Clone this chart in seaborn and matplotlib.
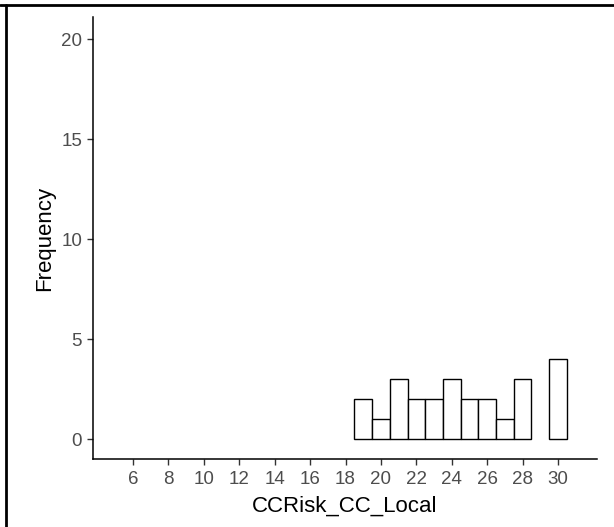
import matplotlib
matplotlib.use("Agg")
import matplotlib.pyplot as plt
from matplotlib.lines import Line2D
import seaborn as sns
import pandas as pd

# Data (bin centre -> frequency)
score_values = [19, 20, 21, 22, 23, 24, 25, 26, 27, 28, 29, 30]
frequencies = [2, 1, 3, 2, 2, 3, 2, 2, 1, 3, 0, 4]
x_ticks = [6, 8, 10, 12, 14, 16, 18, 20, 22, 24, 26, 28, 30]
y_ticks = [0, 5, 10, 15, 20]

df = pd.DataFrame({"CCRisk_CC_Local": score_values, "count": frequencies})

sns.set_theme(style="ticks")
plt.rcParams["font.family"] = ["Liberation Sans", "DejaVu Sans"]

W, H = 614, 527
fig = plt.figure(figsize=(W / 100, H / 100), dpi=100)
left, right, top, bottom = 93, 597, 17, 459
ax = fig.add_axes([left / W, 1 - bottom / H, (right - left) / W, (bottom - top) / H])

sns.histplot(data=df, x="CCRisk_CC_Local", weights="count", discrete=True,
             color="white", edgecolor="black", linewidth=1.0, alpha=1, ax=ax)
for p in list(ax.patches):
    if p.get_height() == 0:
        p.remove()

ax.set_xlim(3.74, 32.2)
ax.set_ylim(-1, 21.1)
ax.set_xticks(x_ticks)
ax.set_yticks(y_ticks)
sns.despine(ax=ax)
for s in ("left", "bottom"):
    ax.spines[s].set_linewidth(1.1)
    ax.spines[s].set_color("black")
ax.tick_params(axis="both", length=4.3, width=1.0, color="#333333",
               labelcolor="#4D4D4D", labelsize=13.5)
ax.tick_params(axis="y", pad=3.5)
ax.tick_params(axis="x", pad=4)
ax.set_xlabel("CCRisk_CC_Local", fontsize=16, color="black", labelpad=6)
ax.set_ylabel("Frequency", fontsize=16, color="black", labelpad=4)

# frame lines of the surrounding document
fig.add_artist(Line2D([0, 1], [1 - 5 / H, 1 - 5 / H], transform=fig.transFigure,
                      color="black", lw=2))
fig.add_artist(Line2D([6 / W, 6 / W], [0, 1 - 5 / H], transform=fig.transFigure,
                      color="black", lw=2))

fig.savefig("out.png", dpi=100)
